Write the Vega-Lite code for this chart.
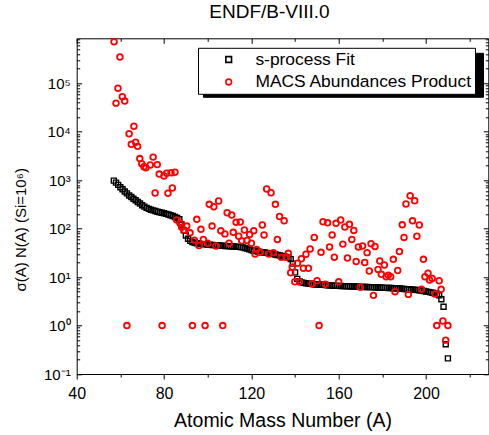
{
  "$schema": "https://vega.github.io/schema/vega-lite/v6.json",
  "width": 411.6,
  "height": 335.7,
  "autosize": {"type": "none"},
  "padding": {"left": 76.7, "top": 38.3, "right": 0.7, "bottom": 61},
  "title": {"text": "ENDF/B-VIII.0", "fontSize": 19, "font": "Liberation Sans", "fontWeight": "normal", "color": "black", "dx": -13, "offset": 13},
  "config": {
    "font": "Liberation Sans",
    "view": {"stroke": null},
    "axis": {"domainColor": "black", "tickColor": "black", "labelColor": "black", "titleColor": "black", "grid": false, "labelFont": "Liberation Sans", "titleFont": "Liberation Sans", "titleFontWeight": "normal", "domainWidth": 1, "tickWidth": 1, "labelFlush": false, "labelOverlap": false}
  },
  "datasets": {
    "fit": [
      {"A":57,"v":980},{"A":58,"v":890},{"A":59,"v":800},{"A":60,"v":715},{"A":61,"v":650},{"A":62,"v":585},{"A":63,"v":535},{"A":64,"v":485},{"A":65,"v":450},{"A":66,"v":415},
      {"A":67,"v":385},{"A":68,"v":355},{"A":69,"v":330},{"A":70,"v":305},{"A":71,"v":285},{"A":72,"v":268},{"A":73,"v":256},{"A":74,"v":246},{"A":75,"v":238},{"A":76,"v":231},
      {"A":77,"v":224},{"A":78,"v":218},{"A":79,"v":213},{"A":80,"v":208},{"A":81,"v":202},{"A":82,"v":196},{"A":83,"v":189},{"A":84,"v":182},{"A":85,"v":174},{"A":86,"v":166},
      {"A":87,"v":156},{"A":88,"v":122},{"A":89,"v":92},{"A":90,"v":72},{"A":91,"v":62},{"A":92,"v":56},{"A":93,"v":53},{"A":94,"v":51},{"A":95,"v":50},{"A":96,"v":49},
      {"A":97,"v":48.5},{"A":98,"v":48},{"A":99,"v":47.5},{"A":100,"v":47},{"A":101,"v":46.5},{"A":102,"v":46},{"A":103,"v":45.7},{"A":104,"v":45.4},{"A":105,"v":45},{"A":106,"v":44.7},
      {"A":107,"v":44.4},{"A":108,"v":44},{"A":109,"v":43.7},{"A":110,"v":43.4},{"A":111,"v":43},{"A":112,"v":42.7},{"A":113,"v":42.4},{"A":114,"v":42},{"A":115,"v":41.5},{"A":116,"v":41},
      {"A":117,"v":40},{"A":118,"v":39},{"A":119,"v":37.5},{"A":120,"v":36},{"A":121,"v":35},{"A":122,"v":34.4},{"A":123,"v":33.8},{"A":124,"v":33.2},{"A":125,"v":32.7},{"A":126,"v":32.2},
      {"A":127,"v":31.6},{"A":128,"v":31},{"A":129,"v":30.5},{"A":130,"v":30},{"A":131,"v":29.3},{"A":132,"v":28.7},{"A":133,"v":28.1},{"A":134,"v":27.4},{"A":135,"v":26.7},{"A":136,"v":26},
      {"A":137,"v":25},{"A":138,"v":23.5},{"A":139,"v":19},{"A":140,"v":12.5},{"A":141,"v":9.2},{"A":142,"v":8.2},{"A":143,"v":7.8},{"A":144,"v":7.6},{"A":145,"v":7.45},{"A":146,"v":7.35},
      {"A":147,"v":7.25},{"A":148,"v":7.2},{"A":149,"v":7.1},{"A":150,"v":7.05},{"A":151,"v":7.0},{"A":152,"v":6.95},{"A":153,"v":6.9},{"A":154,"v":6.85},{"A":155,"v":6.8},{"A":156,"v":6.75},
      {"A":157,"v":6.7},{"A":158,"v":6.65},{"A":159,"v":6.6},{"A":160,"v":6.6},{"A":161,"v":6.55},{"A":162,"v":6.5},{"A":163,"v":6.5},{"A":164,"v":6.45},{"A":165,"v":6.45},{"A":166,"v":6.4},
      {"A":167,"v":6.4},{"A":168,"v":6.35},{"A":169,"v":6.35},{"A":170,"v":6.3},{"A":171,"v":6.3},{"A":172,"v":6.25},{"A":173,"v":6.25},{"A":174,"v":6.2},{"A":175,"v":6.2},{"A":176,"v":6.15},
      {"A":177,"v":6.15},{"A":178,"v":6.1},{"A":179,"v":6.1},{"A":180,"v":6.05},{"A":181,"v":6.0},{"A":182,"v":6.0},{"A":183,"v":5.95},{"A":184,"v":5.95},{"A":185,"v":5.9},{"A":186,"v":5.85},
      {"A":187,"v":5.85},{"A":188,"v":5.8},{"A":189,"v":5.75},{"A":190,"v":5.7},{"A":191,"v":5.65},{"A":192,"v":5.6},{"A":193,"v":5.55},{"A":194,"v":5.5},{"A":195,"v":5.45},{"A":196,"v":5.4},
      {"A":197,"v":5.35},{"A":198,"v":5.25},{"A":199,"v":5.15},{"A":200,"v":5.05},{"A":201,"v":4.95},{"A":202,"v":4.85},{"A":203,"v":4.75},{"A":204,"v":4.6},{"A":205,"v":4.45},{"A":206,"v":4.2},
      {"A":207,"v":3.5},{"A":208,"v":2.45},{"A":209,"v":0.41},{"A":210,"v":0.21}
    ],
    "macs": [
      {"A":57.1,"v":720000},{"A":59.8,"v":350000},{"A":58.9,"v":79000},{"A":58.0,"v":39000},{"A":60.9,"v":53000},{"A":62.0,"v":43000},{"A":66.2,"v":13000},{"A":64.0,"v":9100},
      {"A":65.0,"v":5500},{"A":67.0,"v":6100},{"A":67.9,"v":5000},{"A":68.9,"v":2800},{"A":69.8,"v":2200},{"A":70.8,"v":1900},{"A":71.7,"v":1800},{"A":73.7,"v":2060},
      {"A":75.0,"v":3000},{"A":76.9,"v":2100},{"A":77.8,"v":1340},{"A":80.0,"v":1220},{"A":81.2,"v":1390},{"A":83.2,"v":1430},{"A":85.0,"v":1460},{"A":75.9,"v":545},
      {"A":81.8,"v":537},{"A":83.8,"v":690},{"A":63.0,"v":1},{"A":79.1,"v":1},{"A":93.0,"v":1},{"A":98.8,"v":1},{"A":106.9,"v":1},{"A":151.0,"v":1},
      {"A":204.9,"v":1},{"A":210.0,"v":1},{"A":207.7,"v":1.24},{"A":209.0,"v":0.5},{"A":100.7,"v":318},{"A":102.8,"v":284},{"A":105.0,"v":372},{"A":108.9,"v":213},
      {"A":111.0,"v":191},{"A":113.0,"v":135},{"A":114.9,"v":137},{"A":95.0,"v":156},{"A":85.8,"v":151},{"A":87.3,"v":129},{"A":88.1,"v":107},{"A":90.4,"v":113},
      {"A":89.2,"v":94},{"A":91.9,"v":82},{"A":96.9,"v":97},{"A":102.0,"v":113},{"A":106.0,"v":91},{"A":107.9,"v":78},{"A":111.7,"v":84},{"A":93.9,"v":58},
      {"A":96.0,"v":45},{"A":98.0,"v":60},{"A":100.0,"v":50},{"A":103.8,"v":44},{"A":109.8,"v":50},{"A":116.8,"v":94},{"A":115.6,"v":56},{"A":114.2,"v":70},
      {"A":118.0,"v":57},{"A":119.2,"v":76},{"A":121.1,"v":91},{"A":120.0,"v":50},{"A":121.7,"v":30},{"A":122.4,"v":37},{"A":124.0,"v":32.5},{"A":125.0,"v":119},
      {"A":125.8,"v":74},{"A":127.0,"v":658},{"A":129.0,"v":552},{"A":131.0,"v":318},{"A":132.9,"v":178},{"A":135.0,"v":146},{"A":131.9,"v":60},{"A":128.0,"v":30},
      {"A":130.1,"v":32},{"A":133.7,"v":25.6},{"A":135.9,"v":25.6},{"A":136.9,"v":31},{"A":138.0,"v":12.3},{"A":138.7,"v":16.2},{"A":141.1,"v":19.3},{"A":142.9,"v":23.9},
      {"A":145.0,"v":29.7},{"A":146.9,"v":38},{"A":148.8,"v":66},{"A":143.8,"v":15.2},{"A":146.1,"v":15.2},{"A":151.9,"v":32.5},{"A":152.8,"v":139},{"A":154.9,"v":132},
      {"A":155.8,"v":42},{"A":157.0,"v":74},{"A":158.0,"v":25.8},{"A":158.8,"v":129},{"A":160.9,"v":151},{"A":161.9,"v":48},{"A":162.8,"v":108},{"A":164.0,"v":24.8},
      {"A":164.9,"v":123},{"A":166.0,"v":60},{"A":166.9,"v":92},{"A":168.0,"v":21},{"A":169.0,"v":42},{"A":170.9,"v":44},{"A":171.9,"v":20},{"A":173.0,"v":32},
      {"A":174.0,"v":13.4},{"A":174.8,"v":49},{"A":176.6,"v":43},{"A":178.0,"v":14.4},{"A":178.8,"v":21.5},{"A":179.5,"v":11.4},{"A":180.9,"v":17.8},{"A":181.7,"v":10.2},
      {"A":182.7,"v":11.0},{"A":183.8,"v":10.2},{"A":185.0,"v":23.3},{"A":187.0,"v":13.7},{"A":187.8,"v":33.7},{"A":189.1,"v":120},{"A":189.9,"v":66},{"A":190.8,"v":323},
      {"A":192.7,"v":479},{"A":194.8,"v":376},{"A":193.8,"v":145},{"A":196.9,"v":119},{"A":195.8,"v":70},{"A":198.8,"v":23.3},{"A":199.5,"v":10.2},{"A":200.9,"v":12},
      {"A":201.6,"v":8.7},{"A":202.8,"v":9.4},{"A":206.0,"v":8.4},{"A":206.9,"v":5.6},{"A":204.1,"v":4.5},{"A":197.9,"v":5.6},{"A":191.9,"v":4.4},{"A":185.8,"v":5.0},
      {"A":175.9,"v":4.2},{"A":169.9,"v":6.2},{"A":160.0,"v":8.0},{"A":153.9,"v":7.1},{"A":150.1,"v":8.4},{"A":147.8,"v":7.3},{"A":142.0,"v":8.0},{"A":139.9,"v":8.0}
    ]
  },
  "resolve": {"axis": {"x": "independent", "y": "independent"}},
  "layer": [
    {
      "data": {"name": "fit"},
      "mark": {"type": "point", "filled": false, "opacity": 1, "strokeWidth": 1.4, "size": 25},
      "encoding": {
        "x": {"field": "A", "type": "quantitative", "scale": {"domain": [40, 228.5], "nice": false, "zero": false},
              "axis": {"orient": "bottom", "values": [40, 80, 120, 160, 200], "tickSize": 5, "labelFontSize": 16, "labelPadding": 6, "title": "Atomic Mass Number (A)", "titleFontSize": 19.5, "titlePadding": 10, "domain": true}},
        "y": {"field": "v", "type": "quantitative", "scale": {"type": "log", "domain": [0.1, 850000], "nice": false},
              "axis": {"orient": "left", "values": [0.1, 1, 10, 100, 1000, 10000, 100000], "ticks": false, "labelFontSize": 15, "labelPadding": 6.5,
                       "labelExpr": "'10' + ['⁻¹','⁰','¹','²','³','⁴','⁵','⁶'][round(log(datum.value)/LN10)+1]",
                       "title": "σ(A) N(A) (Si=10⁶)", "titleFontSize": 15, "titleX": -51, "titleY": 191, "titleBaseline": "alphabetic", "domain": true}},
        "color": {"datum": "s-process Fit", "scale": {"domain": ["s-process Fit", "MACS Abundances Product"], "range": ["#000000", "#ff0000"]},
                  "legend": {"orient": "none", "direction": "vertical", "legendX": 121.3, "legendY": 9.5, "title": null, "fillColor": "white", "strokeColor": "black", "padding": 3,
                             "symbolOffset": 19, "labelOffset": 18, "rowPadding": 3.5, "labelFontSize": 17.4, "labelColor": "black", "labelLimit": 400, "symbolSize": 32, "symbolStrokeWidth": 1.6, "zindex": 2}},
        "shape": {"datum": "s-process Fit", "scale": {"domain": ["s-process Fit", "MACS Abundances Product"], "range": ["square", "circle"]}}
      }
    },
    {
      "data": {"name": "macs"},
      "mark": {"type": "point", "filled": false, "opacity": 1, "strokeWidth": 1.8, "size": 32},
      "encoding": {
        "x": {"field": "A", "type": "quantitative", "scale": {"domain": [40, 228.5], "nice": false, "zero": false}, "axis": null},
        "y": {"field": "v", "type": "quantitative", "scale": {"type": "log", "domain": [0.1, 850000], "nice": false},
              "axis": {"orient": "left", "values": [0.1, 1, 10, 100, 1000, 10000, 100000], "tickSize": -5, "labels": false, "domain": false, "title": null}},
        "color": {"datum": "MACS Abundances Product", "scale": {"domain": ["s-process Fit", "MACS Abundances Product"], "range": ["#000000", "#ff0000"]}},
        "shape": {"datum": "MACS Abundances Product", "scale": {"domain": ["s-process Fit", "MACS Abundances Product"], "range": ["square", "circle"]}}
      }
    },
    {
      "data": {"name": "fit"},
      "mark": {"type": "point", "opacity": 0},
      "encoding": {
        "x": {"field": "A", "type": "quantitative", "scale": {"domain": [40, 228.5], "nice": false, "zero": false},
              "axis": {"orient": "top", "values": [40, 80, 120, 160, 200], "tickSize": -5, "labels": false, "domain": true, "title": null}},
        "y": {"field": "v", "type": "quantitative", "scale": {"type": "log", "domain": [0.1, 850000], "nice": false},
              "axis": {"orient": "right", "values": [0.1, 1, 10, 100, 1000, 10000, 100000], "tickSize": -5, "labels": false, "domain": true, "title": null}},
        "opacity": {"datum": "a", "type": "ordinal", "scale": {"domain": ["a", "b"], "range": [0, 0]},
                    "legend": {"orient": "none", "direction": "vertical", "legendX": 126.3, "legendY": 14.5, "title": null, "fillColor": "black", "strokeColor": "black", "padding": 3,
                               "symbolType": "square", "symbolOffset": 0, "labelOffset": 236, "labelFontSize": 17.4, "labelLimit": 400, "symbolSize": 1444, "symbolStrokeWidth": 0, "zindex": 1,
                               "labelExpr": "''"}}
      }
    },
    {
      "data": {"name": "fit"},
      "mark": {"type": "point", "opacity": 0},
      "encoding": {
        "x": {"field": "A", "type": "quantitative", "scale": {"domain": [40, 228.5], "nice": false, "zero": false},
              "axis": {"orient": "top", "values": [60, 100, 140, 180, 220], "tickSize": -3, "labels": false, "domain": false, "title": null}},
        "y": {"field": "v", "type": "quantitative", "scale": {"type": "log", "domain": [0.1, 850000], "nice": false},
              "axis": {"orient": "right", "values": [0.2,0.3,0.4,0.5,0.6,0.7,0.8,0.9,2,3,4,5,6,7,8,9,20,30,40,50,60,70,80,90,200,300,400,500,600,700,800,900,2000,3000,4000,5000,6000,7000,8000,9000,20000,30000,40000,50000,60000,70000,80000,90000,200000,300000,400000,500000,600000,700000,800000], "tickSize": -3, "labels": false, "domain": false, "title": null}}
      }
    },
    {
      "data": {"name": "fit"},
      "mark": {"type": "point", "opacity": 0},
      "encoding": {
        "x": {"field": "A", "type": "quantitative", "scale": {"domain": [40, 228.5], "nice": false, "zero": false},
              "axis": {"orient": "bottom", "values": [60, 100, 140, 180, 220], "tickSize": 3, "labels": false, "domain": false, "title": null}},
        "y": {"field": "v", "type": "quantitative", "scale": {"type": "log", "domain": [0.1, 850000], "nice": false},
              "axis": {"orient": "left", "values": [0.2,0.3,0.4,0.5,0.6,0.7,0.8,0.9,2,3,4,5,6,7,8,9,20,30,40,50,60,70,80,90,200,300,400,500,600,700,800,900,2000,3000,4000,5000,6000,7000,8000,9000,20000,30000,40000,50000,60000,70000,80000,90000,200000,300000,400000,500000,600000,700000,800000], "tickSize": -3, "labels": false, "domain": false, "title": null}}
      }
    }
  ]
}
